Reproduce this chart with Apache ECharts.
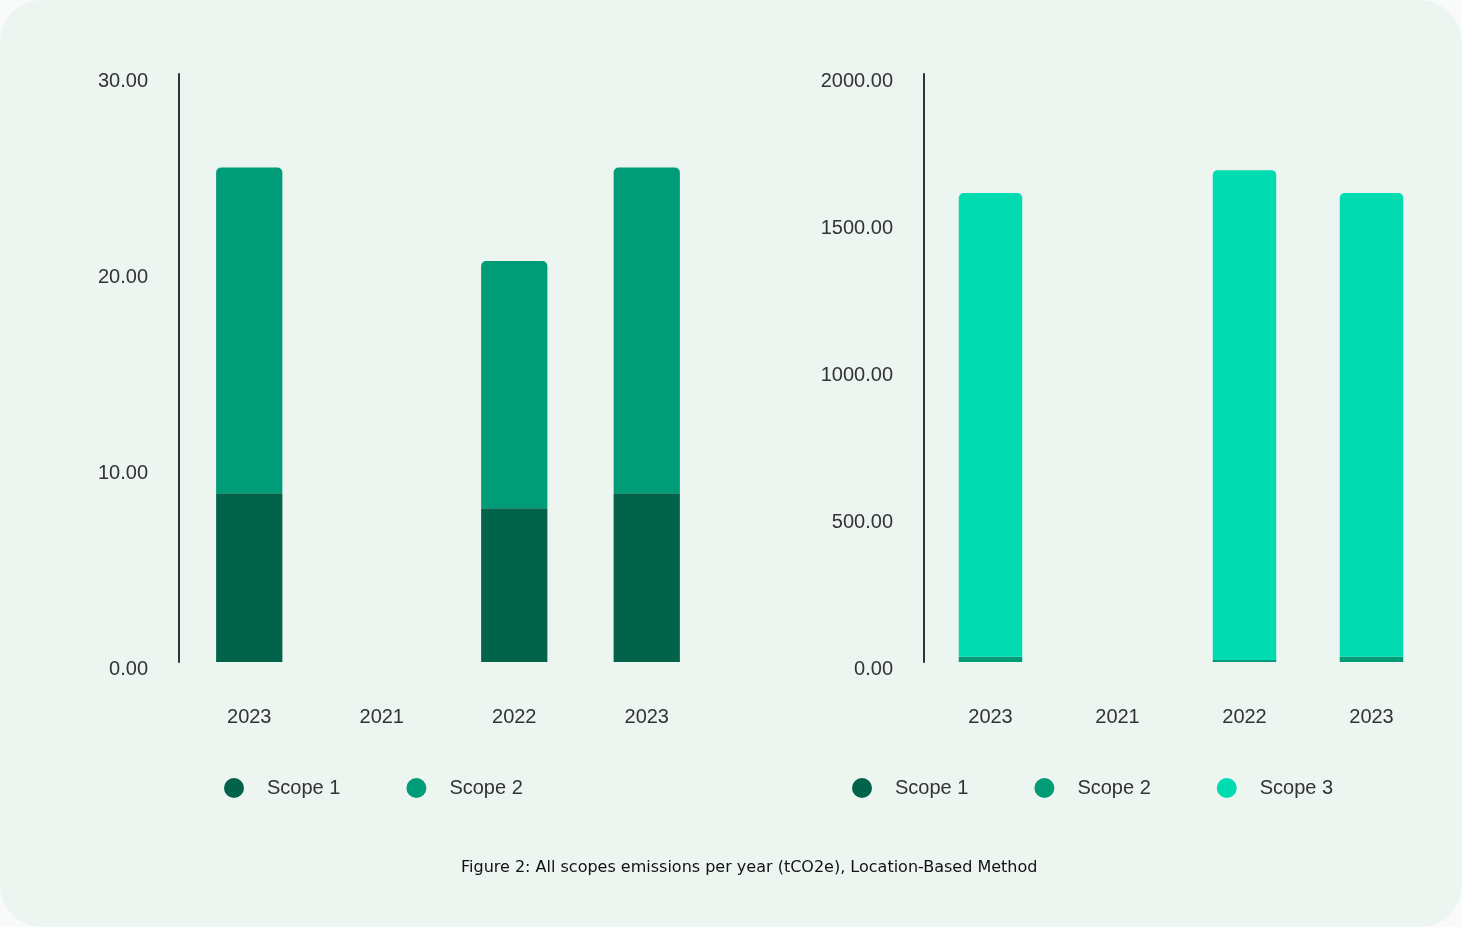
<!DOCTYPE html>
<html>
<head>
<meta charset="utf-8">
<script src="https://cdn.jsdelivr.net/npm/echarts@6/dist/echarts.min.js"></script>
<style>
html,body{margin:0;padding:0;background:#f9fbfa;}
#card{position:absolute;left:0;top:0;width:1462px;height:927px;background:#edf5f0;border-radius:42px;}
#chart{position:absolute;left:0;top:0;width:1462px;height:927px;}
</style>
</head>
<body>
<div id="card"></div>
<div id="chart"></div>
<script>
// ---- data ----
const categories = ['2023', '2021', '2022', '2023'];
const scope1Left = [8.61, null, 7.84, 8.61];
const scope2Left = [16.62, null, 12.62, 16.62];
const scope1Right = [0, null, 0, 0];
const scope2Right = [17.5, null, 7, 17.5];
const scope3Right = [1578, null, 1666, 1578];
const leftTicks = { min: 0, max: 30, interval: 10 };
const rightTicks = { min: 0, max: 2000, interval: 500 };
const caption = 'Figure 2: All scopes emissions per year (tCO2e), Location-Based Method';

const C1 = '#00634a', C2 = '#009c78', C3 = '#00dbb0';
const FONT = '"Liberation Sans", Arial, sans-serif';

const chart = echarts.init(document.getElementById('chart'), null, { renderer: 'canvas' });

function yAx(idx, t) {
  return {
    type: 'value', gridIndex: idx, min: t.min, max: t.max, interval: t.interval,
    offset: idx === 0 ? 4 : 3,
    axisLine: { show: true, lineStyle: { color: '#333', width: 2 } },
    axisTick: { show: false }, splitLine: { show: false },
    axisLabel: { color: '#333', fontSize: 20, fontFamily: FONT, margin: 31,
      verticalAlign: 'top', lineHeight: 14, formatter: v => v.toFixed(2) }
  };
}
function xAx(idx) {
  return {
    type: 'category', gridIndex: idx, data: categories,
    axisLine: { show: false }, axisTick: { show: false },
    axisLabel: { color: '#333', fontSize: 20, fontFamily: FONT, margin: 45 }
  };
}
const roundTop = { borderRadius: [5, 5, 0, 0] };
const legendCommon = {
  icon: 'circle', itemWidth: 20, itemHeight: 20, itemGap: 66, top: 778, padding: 0,
  textStyle: { color: '#333', fontSize: 20, fontFamily: FONT, padding: [0, 0, 0, 18] }
};

chart.setOption({
  animation: false,
  grid: [
    { left: 183, width: 530, top: 74, height: 588 },
    { left: 927, width: 508, top: 74, height: 588 }
  ],
  xAxis: [xAx(0), xAx(1)],
  yAxis: [yAx(0, leftTicks), yAx(1, rightTicks)],
  legend: [
    Object.assign({}, legendCommon, { left: 224, data: ['Scope 1', 'Scope 2'] }),
    Object.assign({}, legendCommon, { left: 852, data: ['Scope 1 ', 'Scope 2 ', 'Scope 3'],
      formatter: n => n.trim() })
  ],
  title: {
    text: caption, left: 461, top: 860, padding: 0,
    textStyle: { fontSize: 16, fontWeight: 'normal', color: '#111', fontFamily: '"DejaVu Sans", sans-serif' }
  },
  series: [
    { name: 'Scope 1', type: 'bar', stack: 'L', xAxisIndex: 0, yAxisIndex: 0, barWidth: '50%', data: scope1Left, itemStyle: { color: C1 } },
    { name: 'Scope 2', type: 'bar', stack: 'L', xAxisIndex: 0, yAxisIndex: 0, barWidth: '50%', data: scope2Left, itemStyle: Object.assign({ color: C2 }, roundTop) },
    { name: 'Scope 1 ', type: 'bar', stack: 'R', xAxisIndex: 1, yAxisIndex: 1, barWidth: '50%', data: scope1Right, itemStyle: { color: C1 } },
    { name: 'Scope 2 ', type: 'bar', stack: 'R', xAxisIndex: 1, yAxisIndex: 1, barWidth: '50%', data: scope2Right, itemStyle: { color: C2 } },
    { name: 'Scope 3', type: 'bar', stack: 'R', xAxisIndex: 1, yAxisIndex: 1, barWidth: '50%', data: scope3Right, itemStyle: Object.assign({ color: C3 }, roundTop) }
  ]
});
</script>
</body>
</html>
